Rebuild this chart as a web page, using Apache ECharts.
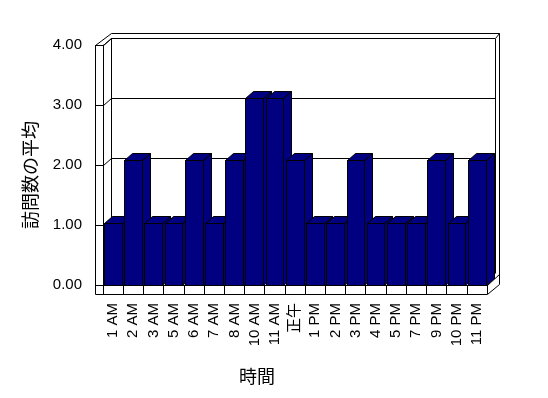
<!DOCTYPE html>
<html>
<head>
<meta charset="utf-8">
<script src="https://cdn.jsdelivr.net/npm/echarts@6/dist/echarts.min.js"></script>
<style>
html,body{margin:0;padding:0;background:#fff;}
#chart{width:548px;height:398px;}
</style>
</head>
<body>
<div id="chart"></div>
<script>
// ---- data ----
const categories = ['1 AM','2 AM','3 AM','5 AM','6 AM','7 AM','8 AM','10 AM','11 AM','正午','1 PM','2 PM','3 PM','4 PM','5 PM','7 PM','9 PM','10 PM','11 PM'];
const values = [1,2,1,1,2,1,2,3,3,2,1,1,2,1,1,1,2,1,2];
const yTicks = [0,1,2,3,4];
const yAxisName = '訪問数の平均';
const xAxisName = '時間';

// ---- layout / 3D style constants ----
const GL = 103, GT = 45, GW = 384, GH = 240;
const DX = 8, DY = -7;      // depth offset
const WALL = 8, FLOOR = 9;  // wall / floor thickness
const PERSP = 1.038;        // slight perspective enlargement of bars
const FONT = '"Liberation Sans", "Noto Sans CJK JP", sans-serif';
const JFONT = '"Noto Sans CJK JP", sans-serif';
const yMax = yTicks[yTicks.length - 1];

const chart = echarts.init(document.getElementById('chart'), null, {renderer: 'canvas'});

function renderItem(params, api) {
  const i = api.value(0), v = api.value(1);
  const base = api.coord([i, 0]);
  const topP = api.coord([i, v]);
  const bw = api.size([1, 0])[0];
  const yb = Math.round(base[1]) + 0.5;
  const yt = Math.round(base[1] - (base[1] - topP[1]) * PERSP) + 0.5;
  const x0 = Math.round(base[0] - bw / 2 + 1) + 0.5;
  const x1 = Math.round(base[0] + bw / 2 - 1.5) + 0.5;
  const st = {fill: '#000080', stroke: '#000', lineWidth: 1};
  return {
    type: 'group',
    children: [
      {type: 'polygon', shape: {points: [[x1, yt], [x1 + DX, yt + DY], [x1 + DX, yb + DY], [x1, yb]]}, style: st},
      {type: 'polygon', shape: {points: [[x0, yt], [x1, yt], [x1 + DX, yt + DY], [x0 + DX, yt + DY]]}, style: st},
      {type: 'rect', shape: {x: x0, y: yt, width: x1 - x0, height: yb - yt}, style: st}
    ]
  };
}

function ln(x1, y1, x2, y2, z) {
  return {type: 'line', z: z, silent: true,
    shape: {x1: x1 + 0.5, y1: y1 + 0.5, x2: x2 + 0.5, y2: y2 + 0.5},
    style: {stroke: '#000', lineWidth: 1}};
}

const oL = GL - WALL, bL = GL + DX, bR = GL + GW + DX, oR = bR + 4;
const bT = GT + DY, oT = bT - 5, fB = GT + GH + FLOOR, fR = GL + GW;
const graphics = [
  ln(bL, bT, bL, GT + GH + DY, 1),
  ln(bR, bT, bR, GT + GH + DY - 5, 1),
  ln(bL, oT, oR, oT, 1),
  ln(oL, GT, bL, oT, 1),
  ln(GL, GT, bL, bT, 1),
  ln(bR, bT, oR, oT, 1),
  ln(oR, oT, oR, GT + GH - 1, 1),
  ln(fR, GT + GH, oR, GT + GH - 11, 1),
  ln(fR, fB, oR, GT + GH - 1, 1),
  ln(oL, GT, oL, fB, 5),
  ln(oL, fB, fR, fB, 5),
  ln(oL, GT, GL, GT, 5)
];
yTicks.forEach(function (t) {
  const y = Math.round(GT + GH * (1 - t / yMax));
  graphics.push(ln(GL, y, bL, y + DY, 1));
});
graphics.push({type: 'text', x: 30, y: 175, rotation: Math.PI / 2, z: 5,
  style: {text: yAxisName, font: '18px ' + JFONT, fill: '#000', align: 'center', verticalAlign: 'middle'}});
graphics.push({type: 'text', x: 257, y: 376, z: 5,
  style: {text: xAxisName, font: '18px ' + JFONT, fill: '#000', align: 'center', verticalAlign: 'middle'}});

const option = {
  animation: false,
  backgroundColor: '#fff',
  grid: [
    {left: GL, top: GT, width: GW, height: GH},
    {left: GL + DX, top: GT + DY, width: GW, height: GH}
  ],
  xAxis: [
    {gridIndex: 0, type: 'category', data: categories, boundaryGap: true,
      axisLine: {show: true, lineStyle: {color: '#000', width: 1}},
      axisTick: {show: true, length: FLOOR, interval: 0, lineStyle: {color: '#000'}},
      axisLabel: {rotate: 90, margin: 18, interval: 0, fontSize: 15, color: '#000', fontFamily: FONT},
      splitLine: {show: false}, z: 4},
    {gridIndex: 1, type: 'category', data: categories, show: false}
  ],
  yAxis: [
    {gridIndex: 0, type: 'value', min: 0, max: yMax, interval: 1,
      axisLine: {show: true, lineStyle: {color: '#000', width: 1}},
      axisTick: {show: true, length: WALL, lineStyle: {color: '#000'}},
      axisLabel: {formatter: function (v) { return v.toFixed(2); }, margin: 21, fontSize: 15, color: '#000', fontFamily: FONT},
      splitLine: {show: false}},
    {gridIndex: 1, type: 'value', min: 0, max: yMax, interval: 1,
      axisLine: {show: false}, axisTick: {show: false}, axisLabel: {show: false},
      splitLine: {show: true, lineStyle: {color: '#000', width: 1}}}
  ],
  series: [
    {type: 'custom', xAxisIndex: 0, yAxisIndex: 0, renderItem: renderItem, z: 3,
      encode: {x: 0, y: 1},
      data: values.map(function (v, i) { return [i, v]; })}
  ],
  graphic: {elements: graphics}
};
chart.setOption(option);
</script>
</body>
</html>
